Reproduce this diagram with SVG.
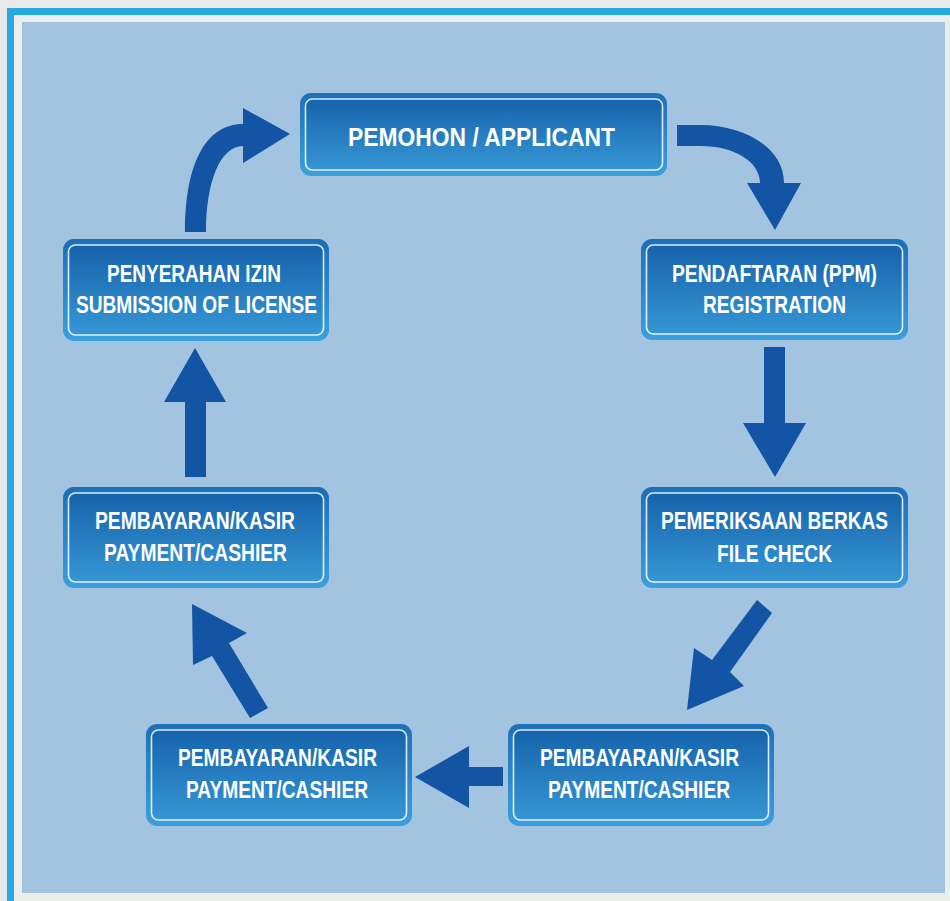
<svg xmlns="http://www.w3.org/2000/svg" width="950" height="901" viewBox="0 0 950 901">
<defs>
<linearGradient id="rim" x1="0" y1="0" x2="0" y2="1">
<stop offset="0" stop-color="#1d6fb8"/>
<stop offset="1" stop-color="#3b9fdc"/>
</linearGradient>
<linearGradient id="face" x1="0" y1="0" x2="0" y2="1">
<stop offset="0" stop-color="#1663ab"/>
<stop offset="1" stop-color="#3696d4"/>
</linearGradient>
<linearGradient id="shine" x1="0" y1="0" x2="1" y2="0">
<stop offset="0" stop-color="#4cc4f0" stop-opacity="0"/>
<stop offset="0.5" stop-color="#4cc4f0" stop-opacity="1"/>
<stop offset="1" stop-color="#4cc4f0" stop-opacity="0"/>
</linearGradient>
</defs>
<style>
.rim{fill:url(#rim);}
.face{fill:url(#face);stroke:#ffffff;stroke-opacity:0.85;stroke-width:1.6;}
.shine{fill:none;stroke:url(#shine);stroke-width:2;}
.lbl{font-family:"Liberation Sans",Arial,sans-serif;font-weight:bold;fill:#ffffff;font-size:23px;}
.big{font-size:26px;}
.arr{fill:#1354a4;}
</style>
<rect x="0" y="0" width="950" height="901" fill="#e7eae9"/>
<rect x="7" y="8" width="943" height="893" fill="#29a9e1"/>
<rect x="14" y="15" width="936" height="886" fill="#eceeec"/>
<rect x="22" y="22" width="923" height="871" fill="#a2c4e1"/>

<g id="connectors">
<path class="arr" d="M677,125 L700,125 C745,125 784,148 784,183 L801,183 L775,230 L747,183 L760,183 C760,162 735,146 700,146 L677,146 Z"/>
<polygon class="arr" points="764,347 785,347 785,423 806,423 775,477 743,423 764,423"/>
<polygon class="arr" points="757,600 772,613 730,672 744,686 687,710 694,648 712,660"/>
<polygon class="arr" points="503,767 503,786 469,786 469,808 415,777 469,746 469,767"/>
<polygon class="arr" points="268,708 250,718 212,656 193,665 192,604 247,633 229,643"/>
<polygon class="arr" points="185,477 206,477 206,402 226,402 195,348 164,402 185,402"/>
<path class="arr" d="M185,232 L206,232 C206,182 220,146 243,146 L243,163 L290,134 L243,108 L243,124 C205,124 185,165 185,232 Z"/>
</g>

<g id="n1">
<rect class="rim" x="300" y="93" width="367" height="83" rx="11"/>
<rect class="face" x="305.5" y="99" width="357" height="71" rx="7"/>
<line class="shine" x1="320" y1="96" x2="647" y2="96"/>
<line class="shine" x1="320" y1="172" x2="647" y2="172"/>
<text class="lbl big" x="348" y="146" textLength="267" lengthAdjust="spacingAndGlyphs">PEMOHON / APPLICANT</text>
</g>

<g id="n2">
<rect class="rim" x="641" y="239" width="267" height="101" rx="11"/>
<rect class="face" x="646.5" y="245" width="256" height="89" rx="7"/>
<line class="shine" x1="660" y1="242" x2="888" y2="242"/>
<line class="shine" x1="660" y1="336" x2="888" y2="336"/>
<text class="lbl" x="672" y="282" textLength="205" lengthAdjust="spacingAndGlyphs">PENDAFTARAN (PPM)</text>
<text class="lbl" x="703" y="313" textLength="143" lengthAdjust="spacingAndGlyphs">REGISTRATION</text>
</g>

<g id="n3">
<rect class="rim" x="63" y="239" width="266" height="102" rx="11"/>
<rect class="face" x="68.5" y="245" width="255" height="90" rx="7"/>
<line class="shine" x1="82" y1="242" x2="310" y2="242"/>
<line class="shine" x1="82" y1="337" x2="310" y2="337"/>
<text class="lbl" x="107" y="282" textLength="174" lengthAdjust="spacingAndGlyphs">PENYERAHAN IZIN</text>
<text class="lbl" x="76" y="313" textLength="241" lengthAdjust="spacingAndGlyphs">SUBMISSION OF LICENSE</text>
</g>

<g id="n4">
<rect class="rim" x="63" y="487" width="266" height="101" rx="11"/>
<rect class="face" x="68.5" y="493" width="255" height="89" rx="7"/>
<line class="shine" x1="82" y1="490" x2="310" y2="490"/>
<line class="shine" x1="82" y1="584" x2="310" y2="584"/>
<text class="lbl" x="95" y="529" textLength="200" lengthAdjust="spacingAndGlyphs">PEMBAYARAN/KASIR</text>
<text class="lbl" x="104" y="561" textLength="183" lengthAdjust="spacingAndGlyphs">PAYMENT/CASHIER</text>
</g>

<g id="n5">
<rect class="rim" x="641" y="487" width="267" height="101" rx="11"/>
<rect class="face" x="646.5" y="493" width="256" height="89" rx="7"/>
<line class="shine" x1="660" y1="490" x2="888" y2="490"/>
<line class="shine" x1="660" y1="584" x2="888" y2="584"/>
<text class="lbl" x="661" y="529" textLength="227" lengthAdjust="spacingAndGlyphs">PEMERIKSAAN BERKAS</text>
<text class="lbl" x="717" y="562" textLength="115" lengthAdjust="spacingAndGlyphs">FILE CHECK</text>
</g>

<g id="n6">
<rect class="rim" x="146" y="724" width="266" height="102" rx="11"/>
<rect class="face" x="151.5" y="730" width="255" height="90" rx="7"/>
<line class="shine" x1="165" y1="727" x2="393" y2="727"/>
<line class="shine" x1="165" y1="822" x2="393" y2="822"/>
<text class="lbl" x="178" y="766" textLength="199" lengthAdjust="spacingAndGlyphs">PEMBAYARAN/KASIR</text>
<text class="lbl" x="186" y="798" textLength="182" lengthAdjust="spacingAndGlyphs">PAYMENT/CASHIER</text>
</g>

<g id="n7">
<rect class="rim" x="508" y="724" width="266" height="102" rx="11"/>
<rect class="face" x="513.5" y="730" width="255" height="90" rx="7"/>
<line class="shine" x1="527" y1="727" x2="755" y2="727"/>
<line class="shine" x1="527" y1="822" x2="755" y2="822"/>
<text class="lbl" x="540" y="766" textLength="199" lengthAdjust="spacingAndGlyphs">PEMBAYARAN/KASIR</text>
<text class="lbl" x="548" y="798" textLength="182" lengthAdjust="spacingAndGlyphs">PAYMENT/CASHIER</text>
</g>
</svg>
